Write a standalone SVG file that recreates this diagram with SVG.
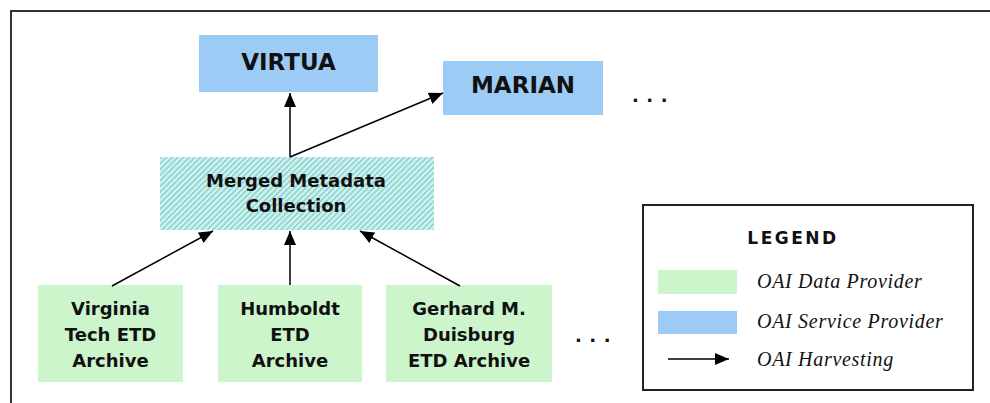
<svg xmlns="http://www.w3.org/2000/svg" width="990" height="403" viewBox="0 0 990 403">
<defs>
<pattern id="hatch" width="4" height="4" patternUnits="userSpaceOnUse" patternTransform="rotate(45)">
<rect width="4" height="4" fill="#d6f3f1"/>
<rect width="2" height="4" fill="#93d8d4"/>
</pattern>
<marker id="ah" markerWidth="14" markerHeight="12" refX="14" refY="6" orient="auto" markerUnits="userSpaceOnUse">
<path d="M0,0 L14,6 L0,12 Z" fill="#000"/>
</marker>
</defs>
<style>
.sp{fill:#9cccf6}
.dp{fill:#ccf5cc}
.t{font-family:"DejaVu Sans",sans-serif;font-weight:bold;fill:#111;text-anchor:middle}
.big{font-size:23px}
.mid{font-size:18px}
.lg{font-family:"Liberation Serif",serif;font-style:italic;font-size:20px;letter-spacing:0.7px;fill:#111}
.c{stroke:#000;stroke-width:1.5;fill:none;marker-end:url(#ah)}
.dots{font-family:"DejaVu Sans",sans-serif;font-weight:bold;font-size:18px;letter-spacing:7.5px;fill:#111}
</style>
<rect width="990" height="403" fill="#fff"/>
<path d="M11,403 L11,11 L990,11" fill="none" stroke="#333" stroke-width="2"/>

<g id="virtua">
<rect class="sp" x="199" y="35" width="179" height="57"/>
<text class="t big" x="288.5" y="70">VIRTUA</text>
</g>
<g id="marian">
<rect class="sp" x="443" y="61" width="160" height="54"/>
<text class="t big" x="523" y="93">MARIAN</text>
</g>
<text class="dots" x="632" y="102">...</text>

<g id="merged">
<rect x="160" y="157" width="274" height="73" fill="url(#hatch)"/>
<text class="t mid" x="296" y="187">Merged Metadata</text>
<text class="t mid" x="296" y="212">Collection</text>
</g>

<g id="virginia">
<rect class="dp" x="38" y="285" width="145" height="97"/>
<text class="t mid" x="110.5" y="315">Virginia</text>
<text class="t mid" x="110.5" y="341">Tech ETD</text>
<text class="t mid" x="110.5" y="367">Archive</text>
</g>
<g id="humboldt">
<rect class="dp" x="218" y="285" width="144" height="97"/>
<text class="t mid" x="290" y="315">Humboldt</text>
<text class="t mid" x="290" y="341">ETD</text>
<text class="t mid" x="290" y="367">Archive</text>
</g>
<g id="gerhard">
<rect class="dp" x="386" y="285" width="166" height="97"/>
<text class="t mid" x="469" y="315">Gerhard M.</text>
<text class="t mid" x="469" y="341">Duisburg</text>
<text class="t mid" x="469" y="367">ETD Archive</text>
</g>
<text class="dots" x="575" y="342">...</text>

<g id="connectors">
<line class="c" x1="290" y1="157" x2="290" y2="93"/>
<line class="c" x1="290" y1="157" x2="443" y2="93"/>
<line class="c" x1="112" y1="286" x2="213" y2="231"/>
<line class="c" x1="290" y1="285" x2="290" y2="231"/>
<line class="c" x1="460" y1="286" x2="360" y2="231"/>
</g>

<g id="legend">
<rect x="643" y="205" width="330" height="185" fill="#fff" stroke="#222" stroke-width="2"/>
<text class="t" x="793" y="244" style="font-size:17px;letter-spacing:2.5px">LEGEND</text>
<rect class="dp" x="658" y="270" width="79" height="24"/>
<text class="lg" x="757" y="288">OAI Data Provider</text>
<rect class="sp" x="658" y="311" width="79" height="23"/>
<text class="lg" x="757" y="328">OAI Service Provider</text>
<line class="c" x1="668" y1="359" x2="729" y2="359"/>
<text class="lg" x="757" y="366">OAI Harvesting</text>
</g>
</svg>
